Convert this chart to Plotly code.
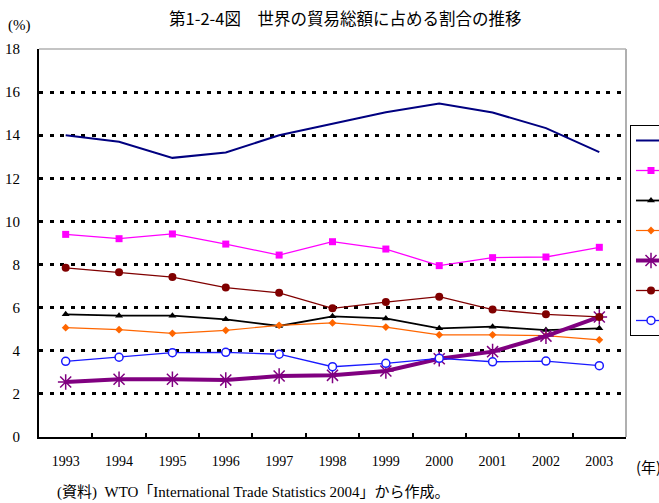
import plotly.graph_objects as go

years = ["1993", "1994", "1995", "1996", "1997", "1998", "1999", "2000", "2001", "2002", "2003"]

us = [14.0, 13.7, 12.95, 13.2, 14.0, 14.55, 15.07, 15.47, 15.05, 14.33, 13.22]
germany = [9.40, 9.20, 9.42, 8.95, 8.44, 9.06, 8.72, 7.95, 8.32, 8.35, 8.80]
france = [5.69, 5.63, 5.63, 5.46, 5.15, 5.60, 5.50, 5.04, 5.12, 4.96, 5.04]
uk = [5.07, 4.98, 4.81, 4.95, 5.18, 5.29, 5.10, 4.74, 4.74, 4.70, 4.51]
china = [2.55, 2.68, 2.68, 2.64, 2.83, 2.86, 3.06, 3.63, 3.96, 4.68, 5.57]
japan = [7.85, 7.64, 7.42, 6.93, 6.69, 5.97, 6.26, 6.51, 5.91, 5.69, 5.57]
canada = [3.51, 3.70, 3.91, 3.93, 3.84, 3.26, 3.42, 3.65, 3.49, 3.52, 3.31]

series = [
    ("米国", us, dict(color="#000080", width=2), None),
    ("ドイツ", germany, dict(color="#FF00FF", width=1.3), dict(symbol="square", size=7, color="#FF00FF")),
    ("フランス", france, dict(color="#000000", width=1.8), dict(symbol="triangle-up", size=7, color="#000000")),
    ("英国", uk, dict(color="#FF6600", width=1.2), dict(symbol="diamond", size=6, color="#FF6600")),
    ("中国", china, dict(color="#800080", width=4), dict(symbol="asterisk-open", size=13, color="#800080", line=dict(color="#800080", width=1.5))),
    ("日本", japan, dict(color="#800000", width=1.3), dict(symbol="circle", size=8, color="#800000")),
    ("カナダ", canada, dict(color="#1a1aff", width=1.3), dict(symbol="circle", size=8, color="white", line=dict(color="#1a1aff", width=1.5))),
]

fig = go.Figure()
for i, (name, vals, line, marker) in enumerate(series):
    kw = dict(x=years, y=vals, name=name, line=line, legendgroup=f"g{i}")
    if marker is None:
        kw["mode"] = "lines"
    else:
        kw["mode"] = "lines+markers"
        kw["marker"] = marker
    fig.add_trace(go.Scatter(**kw))

serif = "Liberation Serif, Noto Sans CJK JP, serif"
W, H = 659, 503

fig.update_layout(
    width=W, height=H,
    margin=dict(l=39, r=33, t=49, b=66, autoexpand=False),
    paper_bgcolor="white", plot_bgcolor="white",
    font=dict(family=serif, size=14, color="#000000"),
    showlegend=True,
    legend=dict(
        xref="container", yref="container",
        x=630 / W, y=1 - 125 / H, xanchor="left", yanchor="top",
        bordercolor="#000000", borderwidth=1, bgcolor="white",
        font=dict(size=12, family="Noto Sans CJK JP"),
        tracegroupgap=11, traceorder="grouped",
    ),
    xaxis=dict(
        type="category", tickson="boundaries", ticks="inside", ticklen=4,
        tickcolor="#000000", tickwidth=1.5, automargin=False,
        showline=True, linecolor="#000000", linewidth=2,
        showgrid=False, range=[-0.5, 10.5],
        tickfont=dict(family=serif, size=14), ticklabelstandoff=10,
    ),
    yaxis=dict(
        range=[0, 18], dtick=2, tick0=0, ticks="inside", ticklen=3,
        tickcolor="#000000", tickwidth=1, automargin=False,
        showline=True, linecolor="#000000", linewidth=2,
        showgrid=True, gridcolor="#000000", gridwidth=3, griddash="4px,6.5px",
        zeroline=False,
        tickfont=dict(family=serif, size=15), ticklabelstandoff=14,
    ),
    shapes=[
        dict(type="line", xref="paper", yref="paper", x0=1, x1=1, y0=0, y1=1,
             line=dict(color="#b0b0b0", width=2), layer="below"),
        dict(type="line", xref="paper", yref="paper", x0=0, x1=1, y0=1, y1=1,
             line=dict(color="#b0b0b0", width=1.5), layer="below"),
    ],
)

pw = W - 39 - 33
ph = H - 49 - 66


def ann(text, px, py, font, xanchor="center"):
    fig.add_annotation(text=text, xref="paper", yref="paper",
                       x=(px - 39) / pw, y=(H - 66 - py) / ph,
                       xanchor=xanchor, yanchor="middle", showarrow=False, font=font)


ann("第1-2-4図　世界の貿易総額に占める割合の推移", 345, 18,
    dict(family="Noto Sans CJK JP", size=16.5, color="#000000"))
ann("(%)", 19, 26, dict(family=serif, size=15))
ann("(年)", 648, 466, dict(family="Noto Sans CJK JP", size=15))
ann("(資料)  WTO「International Trade Statistics 2004」から作成。", 55, 492,
    dict(family=serif, size=15), xanchor="left")

fig.write_html("out.html", post_script="document.body.style.margin='0';",
               config={"displayModeBar": False})
